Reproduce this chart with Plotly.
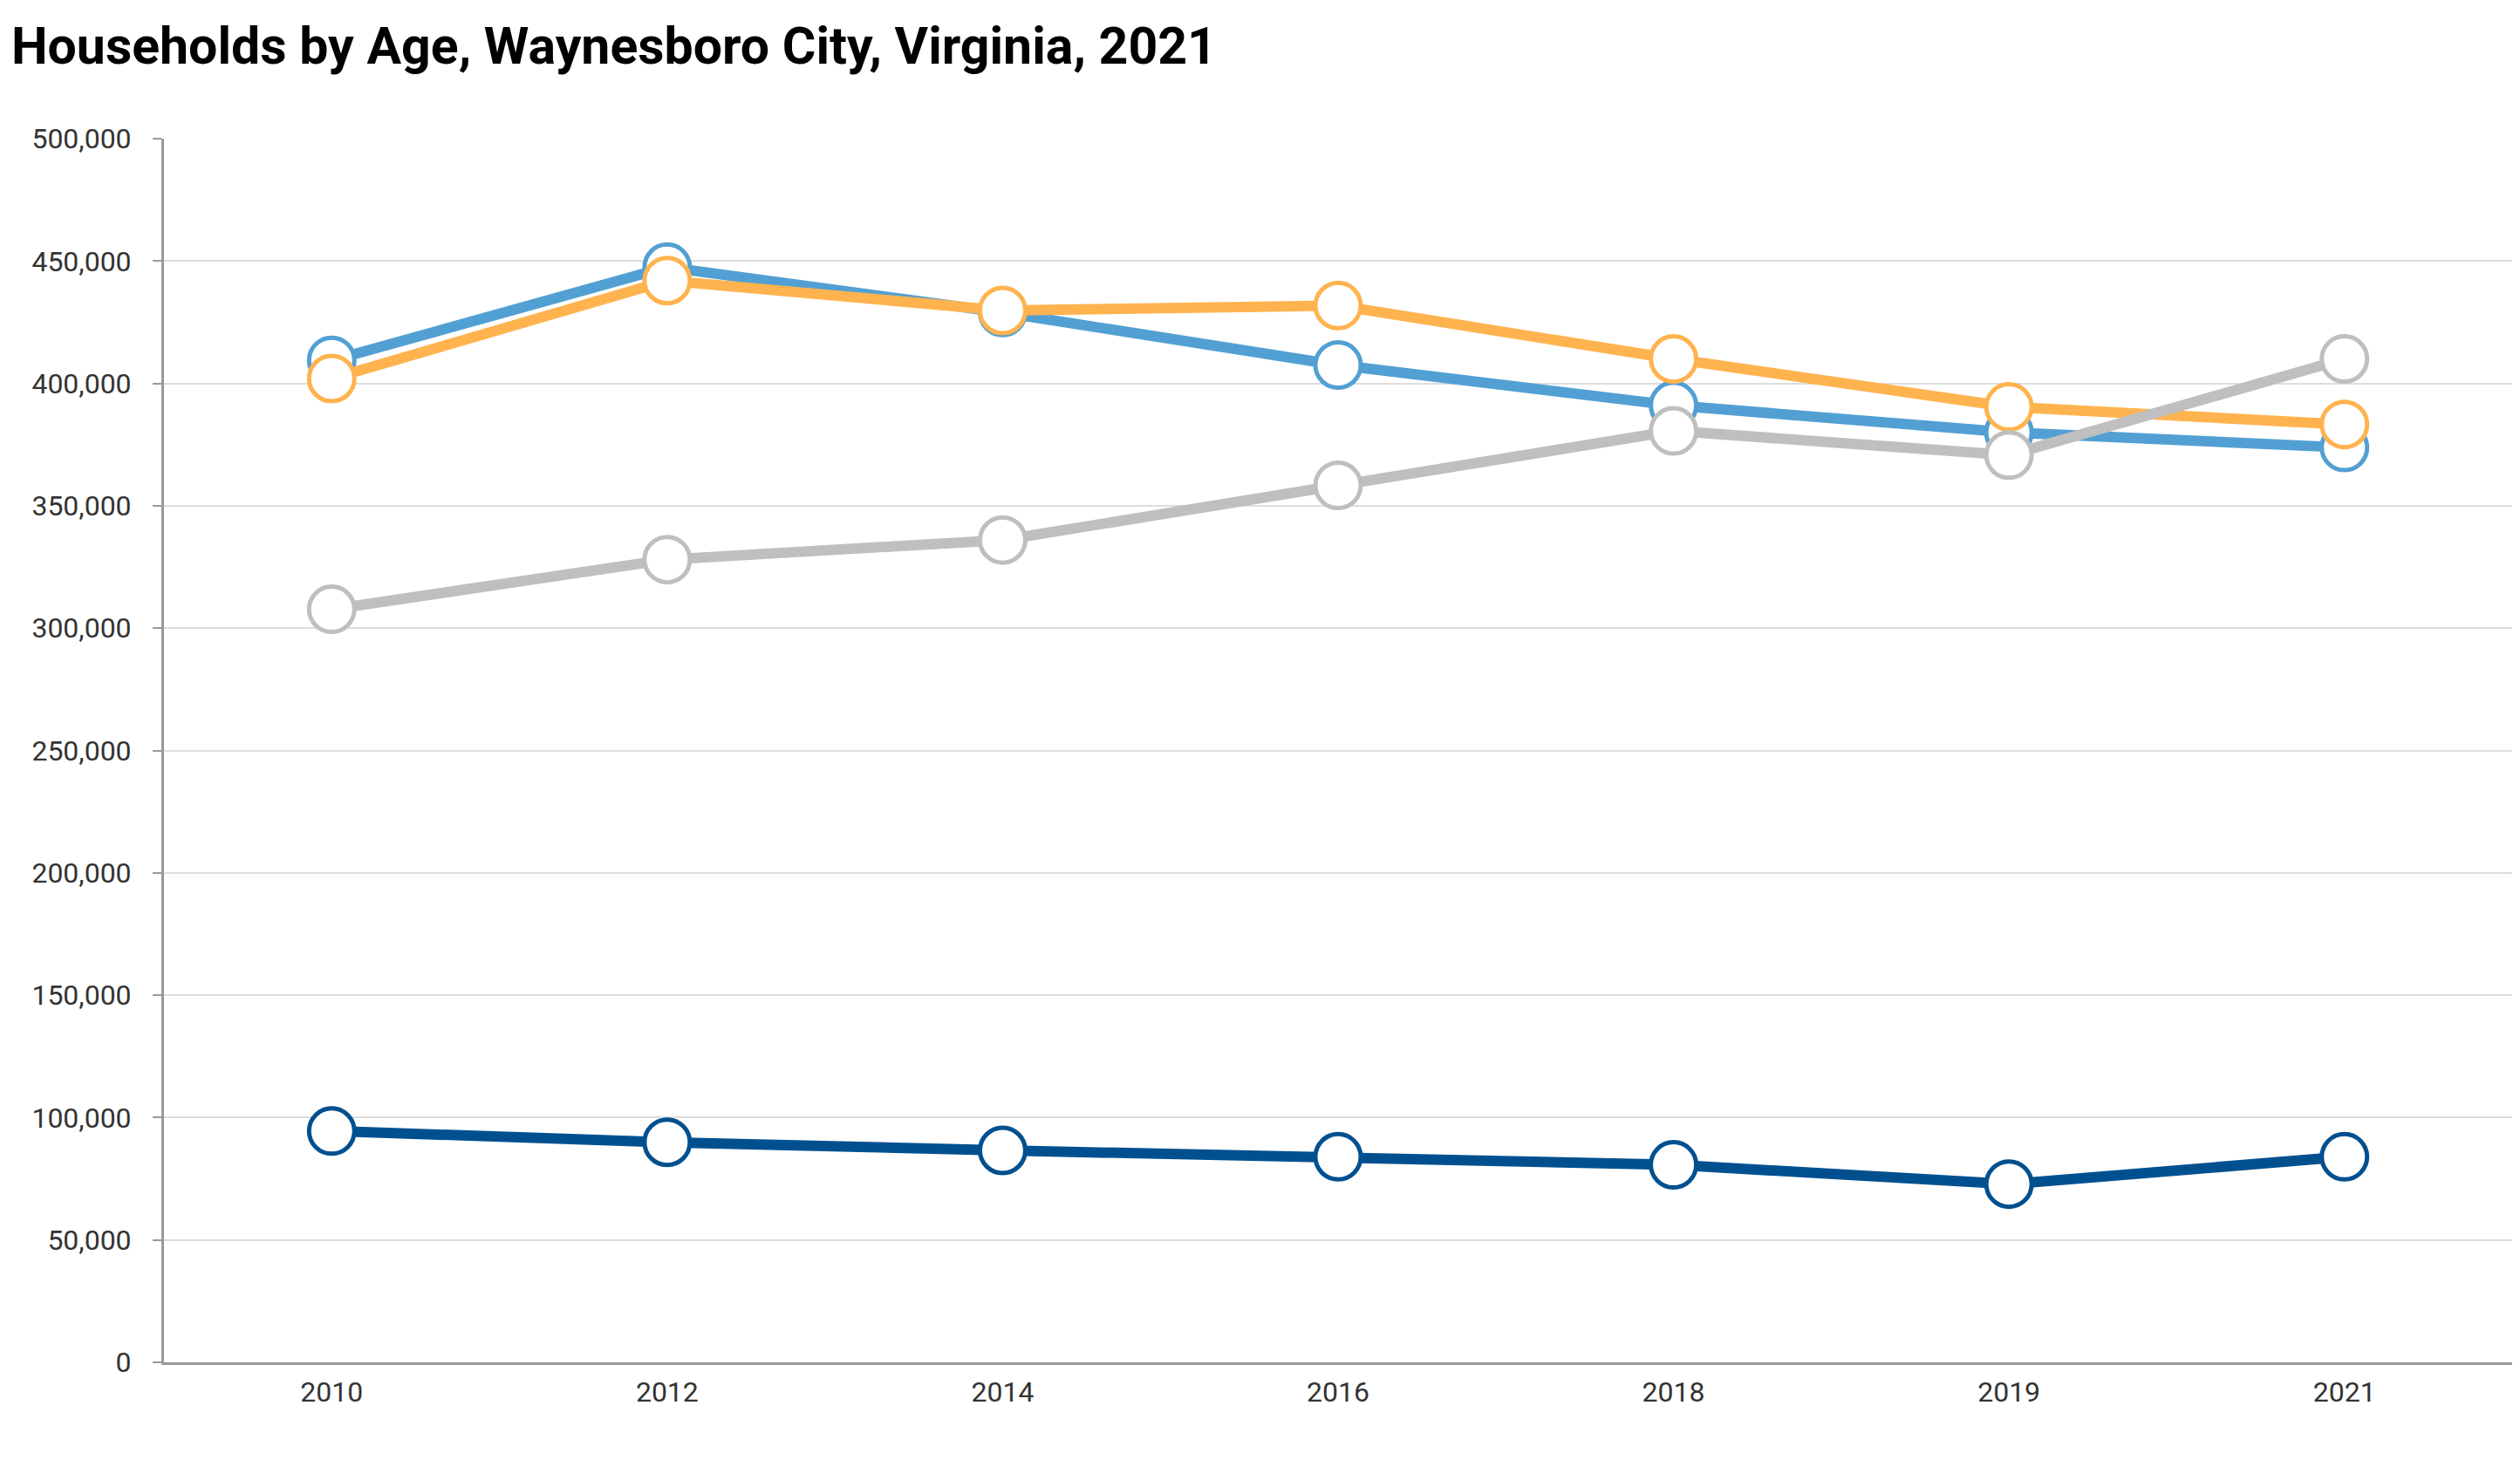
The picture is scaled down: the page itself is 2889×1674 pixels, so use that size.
import plotly.graph_objects as go

years = ["2010", "2012", "2014", "2016", "2018", "2019", "2021"]
navy_vals = [94500, 89900, 86600, 84000, 80700, 72800, 84000]
blue_vals = [409400, 447500, 429000, 407500, 391000, 380000, 373800]
orange_vals = [402000, 442000, 429800, 431800, 410000, 390400, 383200]
gray_vals = [307700, 328000, 336000, 358300, 380600, 370700, 410000]

series = [
    ("Under 25", navy_vals, "#00508F"),
    ("25 to 44", blue_vals, "#52A0D3"),
    ("45 to 64", orange_vals, "#FFB34F"),
    ("65 and over", gray_vals, "#BFBFBF"),
]

fig = go.Figure()
for name, vals, col in series:
    fig.add_trace(go.Scatter(
        x=years, y=vals, name=name, mode="lines+markers",
        line=dict(color=col, width=12),
        marker=dict(size=52, color="white", line=dict(color=col, width=5)),
        showlegend=False,
    ))

fig.update_layout(
    width=2881, height=1666,
    paper_bgcolor="white", plot_bgcolor="white",
    margin=dict(l=180, r=9, t=151, b=112),
    title=dict(text="<b>Households by Age, Waynesboro City, Virginia, 2021</b>",
               x=0.0017, xanchor="left", y=0.9736, yanchor="middle",
               font=dict(family="Roboto", size=59, color="#000")),
    font=dict(family="Roboto", size=32, color="#333"),
)
fig.update_xaxes(
    type="category", range=[-0.5, 6.5],
    showline=True, linecolor="#999", linewidth=3,
    showgrid=False, ticks="", ticklabelstandoff=4,
    tickfont=dict(size=32, color="#333"),
)
fig.update_yaxes(
    range=[0, 500000], dtick=50000, tickformat=",d",
    showline=True, linecolor="#999", linewidth=3,
    showgrid=True, gridcolor="#DEDEDE", gridwidth=2,
    ticks="outside", ticklen=10, tickcolor="#999", tickwidth=2,
    ticklabelstandoff=18, zeroline=False,
    tickfont=dict(size=32, color="#333"),
)

fig.write_html("out.html")
